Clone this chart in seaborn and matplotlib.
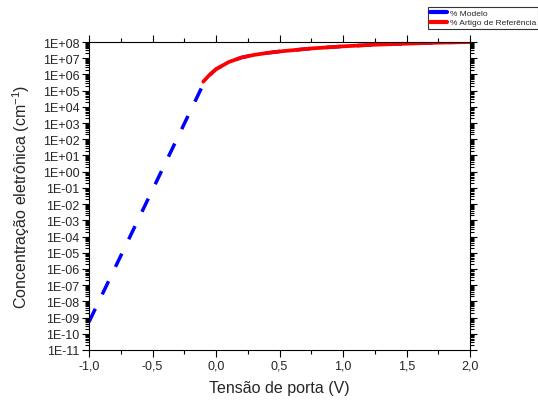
import numpy as np
import pandas as pd
import matplotlib
matplotlib.use("Agg")
import matplotlib.pyplot as plt
import matplotlib.ticker as mticker
import seaborn as sns

# Data
model_v = [-1.0, -0.1, -0.05, 0.0, 0.1, 0.2, 0.3, 0.4, 0.5, 0.75, 1.0, 1.25, 1.5, 1.75, 2.0]
model_n = [5.4e-10, 2.5e5, 9.0e5, 2.1e6, 5.6e6, 1.1e7, 1.6e7, 2.1e7, 2.6e7, 4.0e7, 5.4e7, 6.8e7, 7.9e7, 9.1e7, 1.0e8]
ref_v = [-0.1, -0.05, 0.0, 0.1, 0.2, 0.3, 0.4, 0.5, 0.75, 1.0, 1.25, 1.5, 1.75, 2.0]
ref_n = [3.6e5, 9.5e5, 2.1e6, 5.8e6, 1.1e7, 1.6e7, 2.1e7, 2.6e7, 4.0e7, 5.4e7, 6.8e7, 7.9e7, 9.1e7, 1.0e8]
labels = ["% Modelo", "% Artigo de Referência"]
xlabel = "Tensão de porta (V)"
ylabel = "Concentração eletrônica (cm$^{-1}$)"

sns.set_style("ticks")
plt.rcParams['font.family'] = ['Liberation Sans', 'DejaVu Sans']
plt.rcParams['mathtext.fontset'] = 'custom'
plt.rcParams['mathtext.rm'] = 'Liberation Sans'
plt.rcParams['mathtext.it'] = 'Liberation Sans'

fig = plt.figure(figsize=(5.38, 4.02), dpi=100)
ax = fig.add_axes([89/538, 1-351/402, (470-89)/538, (351-43)/402])

dm = pd.DataFrame({"V": model_v, "N": model_n})
dr = pd.DataFrame({"V": ref_v, "N": ref_n})
sns.lineplot(data=dm, x="V", y="N", ax=ax, color="#0000ff", lw=2.5, label=labels[0])
ax.lines[-1].set_dashes((4.2, 4.6))
sns.lineplot(data=dr, x="V", y="N", ax=ax, color="#ff0000", lw=2.7, label=labels[1])
ax.get_legend().remove()

ax.set_yscale("log")
ax.set_xlim(-1.0, 2.0)
ax.set_ylim(1e-11, 1e8)
ax.xaxis.set_major_locator(mticker.MultipleLocator(0.5))
ax.xaxis.set_minor_locator(mticker.MultipleLocator(0.25))
ax.xaxis.set_major_formatter(mticker.FuncFormatter(lambda v, p: f"{v:.1f}".replace(".", ",")))
ax.yaxis.set_major_locator(mticker.LogLocator(base=10, subs=(1.0,), numticks=40))
ax.yaxis.set_minor_locator(mticker.LogLocator(base=10, subs=np.arange(2, 10), numticks=400))
ax.yaxis.set_minor_formatter(mticker.NullFormatter())

def yfmt(v, p):
    e = int(round(np.log10(v)))
    return f"1E{'+' if e >= 0 else '-'}{abs(e):02d}"
ax.yaxis.set_major_formatter(mticker.FuncFormatter(yfmt))

for s in ax.spines.values():
    s.set_visible(True)
    s.set_color("black")
    s.set_linewidth(0.8)
ax.tick_params(which="both", direction="out", top=True, right=True, color="black",
               labelsize=9, width=0.8)
ax.tick_params(which="major", length=5, pad=2)
ax.tick_params(which="minor", length=3)
ax.set_xlabel(xlabel, fontsize=11.5, labelpad=6)
ax.set_ylabel(ylabel, fontsize=11.5, labelpad=8)

handles, lbls = ax.get_legend_handles_labels()
leg = fig.legend(handles, lbls, loc="upper left", bbox_to_anchor=(428/538, 1-8/402),
                 fontsize=6.0, frameon=True, fancybox=False, edgecolor="black",
                 handlelength=2.0, borderpad=0.25, labelspacing=0.2, handletextpad=0.4,
                 borderaxespad=0)
leg.get_frame().set_linewidth(0.8)
for h in leg.get_lines():
    h.set_linestyle("-")
    h.set_linewidth(3)

fig.savefig("out.png", dpi=100)
